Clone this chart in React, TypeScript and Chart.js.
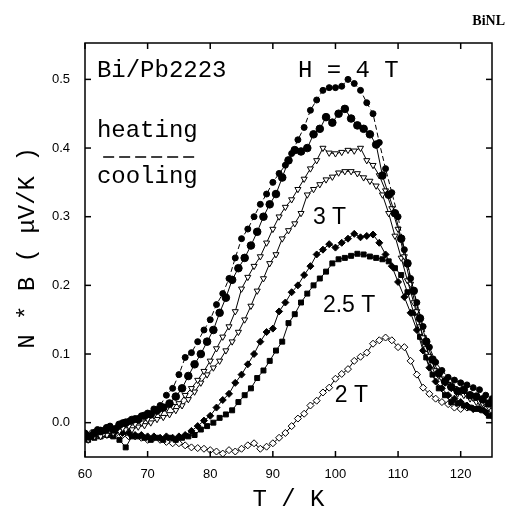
import React, { useEffect, useRef } from "react";
import { Chart, registerables } from "chart.js";

Chart.register(...registerables);

// Temperatures (K)
const tHeat = [60, 61, 62, 63, 64, 65, 66, 67, 68, 69, 70, 71, 72, 73, 74, 75, 76, 77, 78, 79, 80, 81, 82, 83, 84, 85, 86, 87, 88, 89, 90, 91, 92, 93, 94, 95, 96, 97, 98, 99, 100, 101, 102, 103, 104, 105, 106, 107, 108, 109, 110, 111, 112, 113, 114, 115, 116, 117, 118, 119, 120, 121, 122, 123, 124, 125];
const tCool = [60.5, 61.5, 62.5, 63.5, 64.5, 65.5, 66.5, 67.5, 68.5, 69.5, 70.5, 71.5, 72.5, 73.5, 74.5, 75.5, 76.5, 77.5, 78.5, 79.5, 80.5, 81.5, 82.5, 83.5, 84.5, 85.5, 86.5, 87.5, 88.5, 89.5, 90.5, 91.5, 92.5, 93.5, 94.5, 95.5, 96.5, 97.5, 98.5, 99.5, 100.5, 101.5, 102.5, 103.5, 104.5, 105.5, 106.5, 107.5, 108.5, 109.5, 110.5, 111.5, 112.5, 113.5, 114.5, 115.5, 116.5, 117.5, 118.5, 119.5, 120.5, 121.5, 122.5, 123.5, 124.5];

// N*B (uV/K)
const v4Heat = [-0.015, -0.020, -0.010, -0.012, -0.005, -0.008, 0.000, 0.002, 0.006, 0.010, 0.014, 0.020, 0.025, 0.040, 0.050, 0.070, 0.095, 0.102, 0.118, 0.135, 0.150, 0.172, 0.188, 0.210, 0.240, 0.268, 0.282, 0.300, 0.318, 0.333, 0.350, 0.363, 0.375, 0.392, 0.412, 0.430, 0.455, 0.470, 0.484, 0.488, 0.488, 0.490, 0.500, 0.494, 0.484, 0.466, 0.450, 0.408, 0.370, 0.335, 0.300, 0.252, 0.210, 0.175, 0.140, 0.110, 0.088, 0.076, 0.066, 0.062, 0.058, 0.055, 0.051, 0.048, 0.040, 0.035];
const v4Cool = [-0.020, -0.015, -0.012, -0.008, -0.010, -0.003, 0.000, 0.004, 0.005, 0.010, 0.012, 0.018, 0.022, 0.028, 0.038, 0.050, 0.068, 0.085, 0.100, 0.118, 0.135, 0.160, 0.182, 0.208, 0.225, 0.240, 0.258, 0.278, 0.300, 0.318, 0.333, 0.357, 0.382, 0.397, 0.395, 0.400, 0.420, 0.428, 0.445, 0.437, 0.450, 0.457, 0.443, 0.433, 0.428, 0.420, 0.405, 0.360, 0.332, 0.305, 0.268, 0.232, 0.192, 0.152, 0.118, 0.092, 0.072, 0.060, 0.052, 0.046, 0.048, 0.040, 0.038, 0.034, 0.028];
const v3Heat = [-0.020, -0.018, -0.015, -0.016, -0.012, -0.010, -0.008, -0.005, -0.002, 0.000, 0.005, 0.010, 0.014, 0.020, 0.024, 0.028, 0.040, 0.050, 0.062, 0.075, 0.090, 0.108, 0.125, 0.140, 0.162, 0.195, 0.212, 0.228, 0.242, 0.262, 0.282, 0.300, 0.314, 0.325, 0.340, 0.355, 0.370, 0.382, 0.400, 0.393, 0.392, 0.394, 0.397, 0.396, 0.400, 0.382, 0.375, 0.360, 0.338, 0.312, 0.282, 0.242, 0.202, 0.162, 0.124, 0.097, 0.076, 0.064, 0.056, 0.050, 0.045, 0.040, 0.036, 0.031, 0.028, 0.025];
const v3Cool = [-0.025, -0.020, -0.020, -0.018, -0.015, -0.012, -0.010, -0.010, -0.006, -0.004, 0.000, 0.005, 0.008, 0.012, 0.018, 0.025, 0.034, 0.045, 0.058, 0.070, 0.080, 0.090, 0.105, 0.118, 0.132, 0.150, 0.170, 0.192, 0.210, 0.232, 0.245, 0.268, 0.280, 0.290, 0.305, 0.332, 0.340, 0.347, 0.354, 0.358, 0.364, 0.366, 0.366, 0.363, 0.357, 0.352, 0.345, 0.332, 0.305, 0.272, 0.240, 0.207, 0.175, 0.140, 0.108, 0.085, 0.068, 0.058, 0.050, 0.042, 0.040, 0.035, 0.030, 0.028, 0.022];
const v25Heat = [-0.020, -0.018, -0.015, -0.012, -0.015, -0.012, -0.015, -0.015, -0.018, -0.018, -0.020, -0.020, -0.022, -0.020, -0.022, -0.020, -0.018, -0.012, -0.005, 0.003, 0.010, 0.022, 0.033, 0.042, 0.058, 0.070, 0.085, 0.100, 0.118, 0.132, 0.137, 0.162, 0.175, 0.190, 0.200, 0.215, 0.228, 0.245, 0.252, 0.260, 0.255, 0.262, 0.268, 0.275, 0.270, 0.272, 0.274, 0.262, 0.245, 0.228, 0.205, 0.183, 0.160, 0.135, 0.105, 0.080, 0.060, 0.050, 0.040, 0.035, 0.030, 0.025, 0.020, 0.020, 0.015, 0.010];
const v25Cool = [-0.025, -0.022, -0.020, -0.018, -0.020, -0.025, -0.036, -0.020, -0.020, -0.022, -0.025, -0.022, -0.025, -0.022, -0.025, -0.022, -0.020, -0.018, -0.010, -0.005, 0.000, 0.007, 0.012, 0.018, 0.030, 0.040, 0.050, 0.065, 0.076, 0.090, 0.105, 0.118, 0.145, 0.158, 0.175, 0.188, 0.200, 0.210, 0.220, 0.232, 0.238, 0.240, 0.243, 0.246, 0.245, 0.242, 0.240, 0.238, 0.235, 0.225, 0.215, 0.190, 0.160, 0.125, 0.095, 0.070, 0.050, 0.040, 0.030, 0.028, 0.025, 0.022, 0.020, 0.018, 0.010];
const v2 = [-0.020, -0.015, -0.018, -0.015, -0.017, -0.015, -0.018, -0.020, -0.020, -0.022, -0.025, -0.022, -0.025, -0.028, -0.030, -0.030, -0.033, -0.036, -0.037, -0.038, -0.040, -0.042, -0.045, -0.040, -0.042, -0.038, -0.033, -0.030, -0.038, -0.035, -0.030, -0.022, -0.015, -0.005, 0.006, 0.013, 0.025, 0.032, 0.044, 0.051, 0.064, 0.071, 0.078, 0.090, 0.096, 0.102, 0.115, 0.120, 0.124, 0.120, 0.110, 0.110, 0.090, 0.070, 0.051, 0.042, 0.035, 0.030, 0.027, 0.022, 0.020, 0.022, 0.020, 0.022, 0.020, 0.018];

// Axis ticks
const xTicks = [60, 70, 80, 90, 100, 110, 120];
const yTicks = [0.0, 0.1, 0.2, 0.3, 0.4, 0.5];

// In-plot annotations (data coordinates)
const labels = [
  { text: "Bi/Pb2223", t: 61.9, v: 0.503, font: "24px 'Liberation Mono'" },
  { text: "H = 4 T", t: 94.0, v: 0.503, font: "24px 'Liberation Mono'" },
  { text: "heating", t: 61.9, v: 0.416, font: "24px 'Liberation Mono'" },
  { text: "cooling", t: 61.9, v: 0.349, font: "24px 'Liberation Mono'" },
  { text: "3 T", t: 96.4, v: 0.29, font: "23px 'Liberation Sans'" },
  { text: "2.5 T", t: 98.0, v: 0.161, font: "23px 'Liberation Sans'" },
  { text: "2 T", t: 99.9, v: 0.03, font: "23px 'Liberation Sans'" },
];
const legendDash = { t1: 62.9, t2: 77.6, v: 0.387 };

const pts = (ts: number[], vs: number[]) => ts.map((t, i) => ({ x: t, y: vs[i] }));

const overlay = {
  id: "overlay",
  afterDraw(chart: any) {
    const { ctx, chartArea: a, scales } = chart;
    const x = scales.x;
    const y = scales.y;
    ctx.save();
    ctx.strokeStyle = "#000";
    ctx.fillStyle = "#000";
    ctx.lineWidth = 1.5;
    ctx.strokeRect(a.left, a.top, a.right - a.left, a.bottom - a.top);
    const seg = (x1: number, y1: number, x2: number, y2: number) => {
      ctx.beginPath();
      ctx.moveTo(x1, y1);
      ctx.lineTo(x2, y2);
      ctx.stroke();
    };
    const tl = 6;
    xTicks.forEach((v) => {
      const px = x.getPixelForValue(v);
      seg(px, a.bottom, px, a.bottom - tl);
      seg(px, a.top, px, a.top + tl);
    });
    yTicks.forEach((v) => {
      const py = y.getPixelForValue(v);
      seg(a.left, py, a.left + tl, py);
      seg(a.right, py, a.right - tl, py);
    });
    // annotations
    ctx.textBaseline = "alphabetic";
    ctx.textAlign = "left";
    labels.forEach((l) => {
      ctx.font = l.font;
      ctx.fillText(l.text, x.getPixelForValue(l.t), y.getPixelForValue(l.v));
    });
    ctx.setLineDash([11, 5]);
    ctx.lineWidth = 1.5;
    const dy = y.getPixelForValue(legendDash.v);
    seg(x.getPixelForValue(legendDash.t1), dy, x.getPixelForValue(legendDash.t2), dy);
    ctx.setLineDash([]);
    // axis titles
    ctx.font = "24px 'Liberation Mono'";
    ctx.textAlign = "center";
    ctx.textBaseline = "middle";
    ctx.fillText("T / K", (a.left + a.right) / 2, a.bottom + 43);
    ctx.save();
    ctx.translate(28, (a.top + a.bottom) / 2 - 2);
    ctx.rotate(-Math.PI / 2);
    ctx.fillText("N * B ( \u03bcV/K )", 0, 0);
    ctx.restore();
    // corner tag
    ctx.font = "bold 14px 'Liberation Serif'";
    ctx.textAlign = "right";
    ctx.textBaseline = "alphabetic";
    ctx.fillText("BiNL", 505, 25);
    ctx.restore();
  },
};

export default function App() {
  const ref = useRef<HTMLCanvasElement>(null);
  useEffect(() => {
    if (!ref.current) return;
    const common = { borderColor: "#000", borderWidth: 1, showLine: true, pointBorderWidth: 1, tension: 0 };
    const chart = new Chart(ref.current, {
      type: "scatter",
      data: {
        datasets: [
          { ...common, label: "4 T heating", data: pts(tHeat, v4Heat), borderDash: [5, 3], pointStyle: "circle", pointRadius: 3, pointBackgroundColor: "#000", pointBorderColor: "#000" },
          { ...common, label: "4 T cooling", data: pts(tCool, v4Cool), pointStyle: "circle", pointRadius: 3.8, pointBackgroundColor: "#000", pointBorderColor: "#000" },
          { ...common, label: "3 T heating", data: pts(tHeat, v3Heat), pointStyle: "triangle", rotation: 180, pointRadius: 3.5, pointBackgroundColor: "#fff", pointBorderColor: "#000" },
          { ...common, label: "3 T cooling", data: pts(tCool, v3Cool), pointStyle: "triangle", rotation: 180, pointRadius: 3.5, pointBackgroundColor: "#fff", pointBorderColor: "#000" },
          { ...common, label: "2.5 T heating", data: pts(tHeat, v25Heat), pointStyle: "rectRot", pointRadius: 3.5, pointBackgroundColor: "#000", pointBorderColor: "#000" },
          { ...common, label: "2.5 T cooling", data: pts(tCool, v25Cool), pointStyle: "rect", pointRadius: 3.5, pointBackgroundColor: "#000", pointBorderColor: "#000" },
          { ...common, label: "2 T", data: pts(tHeat, v2), pointStyle: "rectRot", pointRadius: 3.5, pointBackgroundColor: "#fff", pointBorderColor: "#000" },
        ],
      },
      options: {
        animation: false,
        responsive: false,
        devicePixelRatio: 1,
        layout: { padding: { left: 0, top: 43, right: 16, bottom: 0 } },
        plugins: { legend: { display: false }, tooltip: { enabled: false }, title: { display: false } },
        scales: {
          x: {
            type: "linear",
            min: 60,
            max: 125,
            grid: { display: false, drawTicks: false },
            border: { display: false },
            afterBuildTicks: (s: any) => { s.ticks = xTicks.map((v) => ({ value: v })); },
            afterFit: (s: any) => { s.height = 61; },
            ticks: { color: "#000", padding: 10, maxRotation: 0, font: { family: "'Liberation Sans'", size: 13 } },
          },
          y: {
            type: "linear",
            min: -0.05,
            max: 0.553,
            grid: { display: false, drawTicks: false },
            border: { display: false },
            afterBuildTicks: (s: any) => { s.ticks = yTicks.map((v) => ({ value: v })); },
            afterFit: (s: any) => { s.width = 85; },
            ticks: { color: "#000", padding: 15, font: { family: "'Liberation Sans'", size: 13 }, callback: (v: any) => Number(v).toFixed(1) },
          },
        },
      },
      plugins: [overlay],
    } as any);
    return () => chart.destroy();
  }, []);
  return (
    <div style={{ position: "fixed", left: 0, top: 0, width: 508, height: 518, background: "#fff" }}>
      <canvas ref={ref} width={508} height={518} style={{ width: 508, height: 518 }} />
    </div>
  );
}
